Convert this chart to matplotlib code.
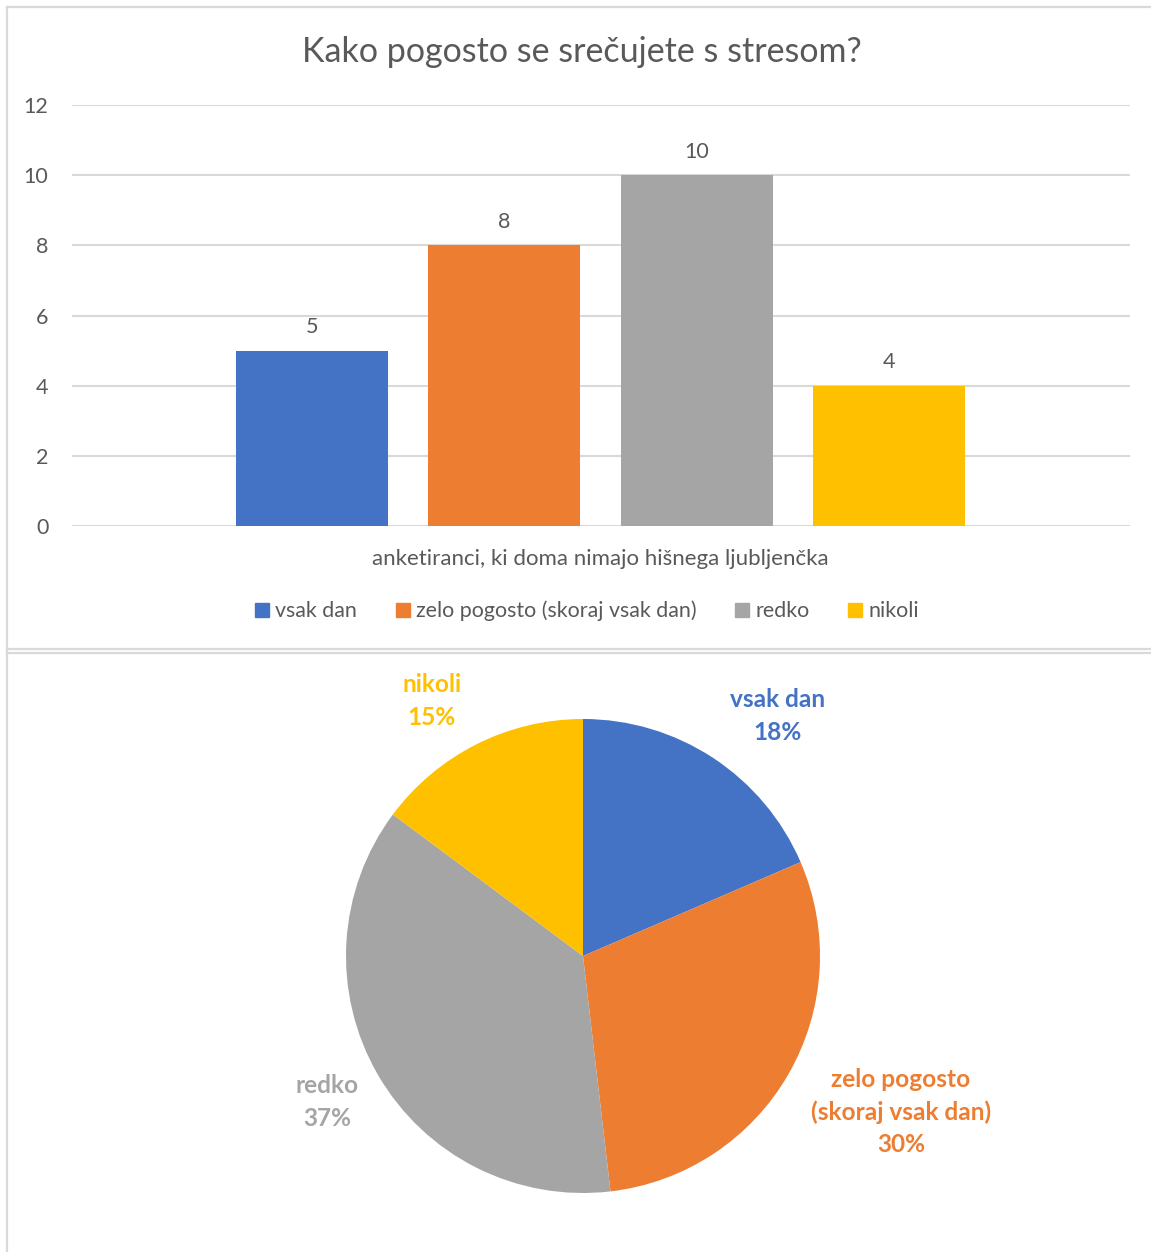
import matplotlib.pyplot as plt
from matplotlib.lines import Line2D
from matplotlib.patches import Patch
import numpy as np

plt.rcParams['font.family'] = ['Lato', 'DejaVu Sans']

categories = ['vsak dan', 'zelo pogosto (skoraj vsak dan)', 'redko', 'nikoli']
pie_labels = ['vsak dan', 'zelo pogosto\n(skoraj vsak dan)', 'redko', 'nikoli']
counts = [5, 8, 10, 4]
colors = ['#4472C4', '#ED7D31', '#A5A5A5', '#FFC000']
yticks = [0, 2, 4, 6, 8, 10, 12]
title = 'Kako pogosto se srečujete s stresom?'
xlabel = 'anketiranci, ki doma nimajo hišnega ljubljenčka'

W, H = 1151, 1252
txt = '#595959'
grid = '#d9d9d9'

fig = plt.figure(figsize=(W / 100, H / 100), dpi=100)


def box(x0, y0, x1, y1):
    # pixel coords -> figure fraction [left, bottom, width, height]
    return [x0 / W, 1 - y1 / H, (x1 - x0) / W, (y1 - y0) / H]


# frame lines of the two chart areas
for xs, ys in [((7, W), (7, 7)), ((7, 7), (7, H)), ((7, W), (649, 649)), ((7, W), (653, 653))]:
    fig.add_artist(Line2D([x / W for x in xs], [1 - y / H for y in ys],
                          color=grid, lw=1.6, transform=fig.transFigure))

# ---- bar chart ----
ax = fig.add_axes(box(72, 105, 1130, 526))
x = np.arange(len(counts))
bars = ax.bar(x, counts, width=0.79, color=colors, zorder=3)
ax.set_xlim(-1.247, 4.252)
ax.set_ylim(0, 12)
ax.set_yticks(yticks)
ax.set_xticks([])
ax.grid(axis='y', color=grid, lw=1.5, zorder=0)
for s in ax.spines.values():
    s.set_visible(False)
ax.tick_params(axis='y', length=0, pad=17, labelsize=15.5, labelcolor=txt)
for b, v in zip(bars, counts):
    ax.annotate(str(v), (b.get_x() + b.get_width() / 2, v), xytext=(0, 9.5),
                textcoords='offset points', ha='center', va='bottom',
                fontsize=15.5, color=txt)

fig.text(582 / W, 1 - 52 / H, title, ha='center', va='center', fontsize=24.5, color=txt)
fig.text(600 / W, 1 - 559 / H, xlabel, ha='center', va='center', fontsize=16, color=txt)

handles = [Patch(color=c) for c in colors]
fig.legend(handles, categories, loc='center', bbox_to_anchor=(587 / W, 1 - 611 / H),
           ncol=4, frameon=False, fontsize=15.4, labelcolor=txt,
           handlelength=0.65, handleheight=0.65, handletextpad=0.3, columnspacing=1.8)

# ---- pie chart ----
ax2 = fig.add_axes(box(583 - 237, 956 - 237, 583 + 237, 956 + 237))
ax2.pie(counts, colors=colors, startangle=90, counterclock=False, radius=1,
        wedgeprops=dict(linewidth=0))
ax2.set_xlim(-1, 1)
ax2.set_ylim(-1, 1)
ax2.set_aspect('equal')
ax2.axis('off')

# percentages rounded so they add up to 100 (largest remainder)
raw = [100 * v / sum(counts) for v in counts]
pct = [int(r) for r in raw]
for i in sorted(range(len(raw)), key=lambda i: raw[i] - pct[i], reverse=True)[:100 - sum(pct)]:
    pct[i] += 1

label_pos = [(0.819, 1.013), (1.342, -0.658), (-1.08, -0.616), (-0.637, 1.076)]
for lab, p, c, (px, py) in zip(pie_labels, pct, colors, label_pos):
    ax2.text(px, py, f'{lab}\n{p}%', ha='center', va='center',
             color=c, fontsize=17.6, fontweight='bold', linespacing=1.5, clip_on=False)

fig.savefig('out.png', dpi=100, facecolor='white')
